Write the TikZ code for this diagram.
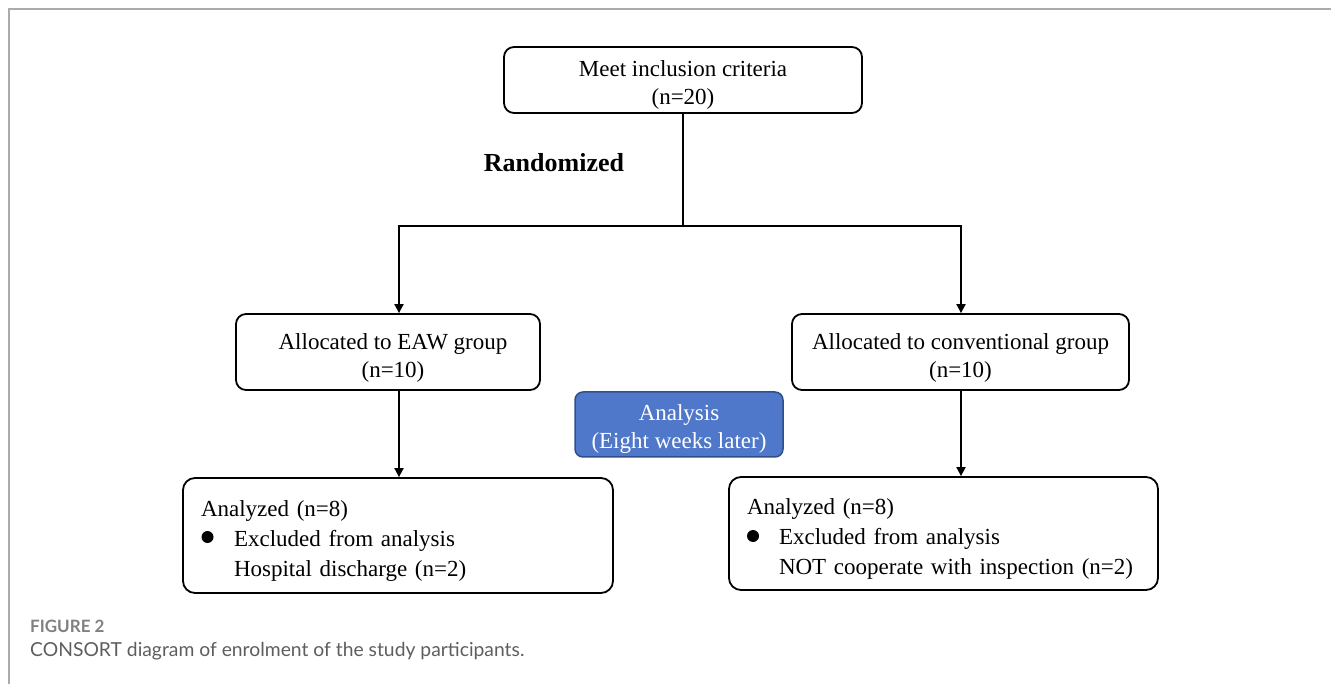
\documentclass[tikz,border=0pt]{standalone}
\usepackage{fontspec}
\setmainfont{Liberation Serif}
\newfontfamily\capfont{Lato}
\usetikzlibrary{arrows.meta,calc}
\definecolor{framegray}{HTML}{ABABAB}
\definecolor{capgray}{HTML}{808080}
\definecolor{captext}{HTML}{5E5E5E}
\definecolor{anafill}{HTML}{4F78CA}
\definecolor{anadraw}{HTML}{2F4F8A}
\newcommand\mystrut[1]{\rule{0pt}{#1}}
\tikzset{
  box/.style={draw, rounded corners=10pt, line width=1.8pt, inner sep=0pt, align=center,
    font=\fontsize{23}{28.5}\selectfont},
  lbox/.style={draw, rounded corners=12pt, line width=1.8pt, inner ysep=0pt, inner xsep=18pt,
    align=left, font=\fontsize{23}{30}\selectfont},
  anabox/.style={draw=anadraw, fill=anafill, text=white, rounded corners=8pt, line width=1.5pt,
    inner sep=0pt, align=center, font=\fontsize{23}{28}\selectfont},
  arr/.style={line width=1.8pt, -{Triangle[length=9pt,width=9pt]}},
  ln/.style={line width=1.8pt},
}
\begin{document}
\begin{tikzpicture}[x=1pt,y=-1pt]
\useasboundingbox (0,0) rectangle (1331,684);
\draw[framegray, line width=2pt] (1331,9) -- (9,9) -- (9,684);

\node[box, minimum width=358pt, minimum height=66pt] (top) at (683,80) {\mystrut{25.5pt}Meet inclusion criteria\\(n=20)};
\node[font=\fontsize{26}{30}\selectfont\bfseries] (rand) at (554,163) {Randomized};
\node[box, minimum width=304pt, minimum height=76pt] (left) at (388,352) {\mystrut{28pt}\hspace*{10pt}Allocated to EAW group\\\hspace*{10pt}(n=10)};
\node[box, minimum width=337pt, minimum height=76pt] (right) at (960.5,352) {\mystrut{28pt}Allocated to conventional group\\(n=10)};
\node[anabox, minimum width=208pt, minimum height=65pt] (ana) at (679,424.5) {\mystrut{24.5pt}Analysis\\(Eight weeks later)};
\node[lbox, text width=394pt, minimum height=115pt] (bl) at (398,535.5)
  {\mystrut{26.5pt}Analyzed (n=8)\\\hspace*{33pt}Excluded from analysis\\\hspace*{33pt}Hospital discharge (n=2)};
\node[lbox, text width=393pt, minimum height=113pt] (br) at (943.5,533.5)
  {\mystrut{26.5pt}Analyzed (n=8)\\\hspace*{32pt}Excluded from analysis\\\hspace*{32pt}NOT cooperate with inspection (n=2)};
\fill (207.5,537) circle (6pt);
\fill (753,536) circle (6pt);

\coordinate (split) at (683,226);
\coordinate (jl) at (399,226);
\coordinate (jr) at (961,226);
\draw[ln] (top.south) -- (split);
\draw[ln, line cap=rect] (jl) -- (jr);
\draw[arr] (jl) -- (jl |- left.north);
\draw[arr] (jr) -- (jr |- right.north);
\draw[arr] (left.south -| jl) -- (jl |- bl.north);
\draw[arr] (right.south -| jr) -- (jr |- br.north);

\node[anchor=west, inner sep=0pt, text=capgray, font=\capfont\bfseries\fontsize{17}{19}\selectfont] (figlab) at (30,626) {FIGURE 2};
\node[anchor=west, inner sep=0pt, text=captext, font=\capfont\fontsize{19.3}{22}\selectfont] (cap) at (30,651) {CONSORT diagram of enrolment of the study participants.};
\end{tikzpicture}
\end{document}
